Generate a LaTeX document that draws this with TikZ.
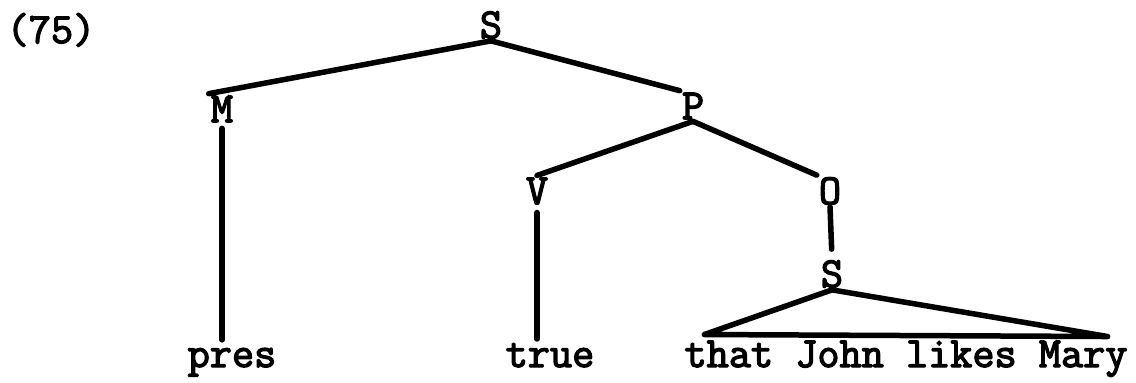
\documentclass[tikz,border=0pt]{standalone}
\usepackage{fontspec}
\newfontfamily\twfont{Latin Modern Mono}[FakeBold=3]
\usetikzlibrary{calc}
\tikzset{
  lab/.style={font=\twfont\fontsize{43}{50}\selectfont, inner sep=2pt},
  edge/.style={line width=5.5pt, line cap=round, line join=round},
}
\begin{document}
\begin{tikzpicture}[x=1pt,y=-1pt]
\useasboundingbox (0,0) rectangle (1136,383);
\node[lab, anchor=base] (num) at (51,43) {(75)};
\node[lab] (S1) at (491,25) {S};
\node[lab] (M) at (222,109) {M};
\node[lab] (P) at (693,106) {P};
\node[lab] (V) at (537,191) {V};
\node[lab] (O) at (830,191) {O};
\node[lab] (S2) at (832,274) {S};
\node[lab, anchor=base] (pres) at (232,367) {pres};
\node[lab, anchor=base] (true) at (550,367) {true};
\node[lab, anchor=base] (tjlm) at (906,367) {that John likes Mary};
\coordinate (A) at ($(tjlm.north west)+(22,-4)$);
\coordinate (B) at ($(tjlm.north east)+(-22,-2)$);
\draw[edge] (S1.south) -- (M.north west);
\draw[edge] (S1.south) -- (P.north west);
\draw[edge] (P.south) -- (V.north);
\draw[edge] (P.south) -- (O.north west);
\draw[edge, shorten <=4pt, shorten >=6pt] (M.south) -- (M.south |- pres.north);
\draw[edge, shorten <=6pt, shorten >=2pt] (V.south) -- (V.south |- true.north);
\draw[edge, shorten >=9pt] (O.south) -- (S2.north);
\draw[edge] (S2.south) -- (A) -- (B) -- cycle;
\end{tikzpicture}
\end{document}
